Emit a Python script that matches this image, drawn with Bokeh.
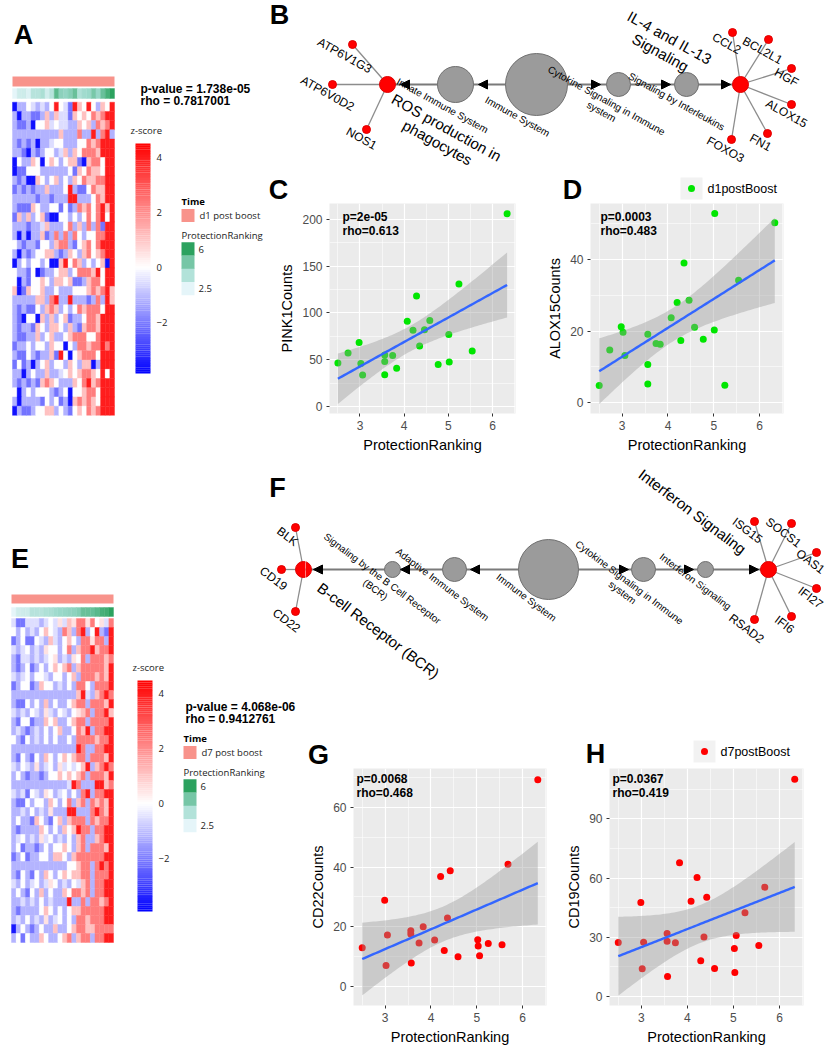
import numpy as np
from bokeh.plotting import figure
from bokeh.models import Range1d, FixedTicker, Arrow, NormalHead, ColumnDataSource
from bokeh.layouts import row, column
from bokeh.embed import file_html
from bokeh.resources import INLINE
from bokeh.core.properties import value
from bokeh.transform import linear_cmap

SANS = "Liberation Sans"
HFONT = "Open Sans"

# ---------------- data: scatter panels ----------------
rank_d1 = [2.5, 2.73, 2.98, 3.02, 3.06, 3.56, 3.56, 3.56, 3.74, 3.83, 4.07, 4.2, 4.28,
           4.35, 4.46, 4.58, 4.77, 5.01, 5.02, 5.24, 5.54, 6.33]
pink1_counts = [46.5, 57.3, 68.5, 46, 33.6, 55, 48, 34, 54.5, 41, 91, 81.5, 118, 64.7,
                82, 92, 45, 77, 47.5, 131, 59.4, 206]
alox15_counts = [4.8, 14.7, 21.2, 19.7, 13.2, 19.1, 10.7, 5.2, 16.5, 16.3, 23.7, 28.0,
                 17.4, 39.0, 28.6, 21.1, 17.7, 20.3, 52.8, 4.9, 34.2, 50.2]
rank_d7 = [2.5, 2.99, 3.02, 3.05, 3.56, 3.56, 3.57, 3.74, 3.83, 4.08, 4.21, 4.29, 4.36,
           4.42, 4.59, 5.02, 5.03, 5.06, 5.25, 5.55, 5.68, 6.33]
cd22_counts = [13, 28.9, 7.0, 17.3, 18.7, 17.6, 7.9, 14.6, 20, 15.6, 36.9, 12.1, 23,
               38.8, 10, 15.7, 13.6, 10.3, 14.4, 14, 41, 69.3]
cd19_counts = [27.4, 47.6, 14.0, 27.5, 31.9, 28.0, 10.1, 27.2, 67.7, 48.3, 60.3, 18.1,
               30.2, 50.3, 14.2, 24.3, 12.2, 30.9, 42.4, 25.8, 55.4, 110]
stat_c = ["p=2e-05", "rho=0.613"]
stat_d = ["p=0.0003", "rho=0.483"]
stat_g = ["p=0.0068", "rho=0.468"]
stat_h = ["p=0.0367", "rho=0.419"]
x_ticks = [3, 4, 5, 6]
c_yticks = [0, 50, 100, 150, 200]
d_yticks = [0, 20, 40]
g_yticks = [0, 20, 40, 60]
h_yticks = [0, 30, 60, 90]

# ---------------- data: heatmaps ----------------
heat_a_stats = ["p-value = 1.738e-05", "rho = 0.7817001"]
heat_e_stats = ["p-value = 4.068e-06", "rho = 0.9412761"]
heat_a_time = "d1 post boost"
heat_e_time = "d7 post boost"
heat_a_col_rank = [2.5, 3.02, 3.06, 2.73, 3.56, 3.56, 3.83, 2.98, 3.56, 5.24, 4.46, 4.35,
                   4.58, 5.02, 3.74, 4.07, 4.2, 4.77, 4.28, 5.01, 5.54, 6.33]
heat_e_col_rank = rank_d7
z_code = {"B": -3.6, "b": -2.1, "l": -1.15, "L": -0.5, "w": 0.0, "P": 0.5,
          "p": 1.1, "r": 2.3, "R": 4.0}
heat_a_codes = [
    "BllwLlLlwRwLbRpwRwlpwR", "lBllbblplpLLbpwpwrprRR", "lbblBwwpLwLLllpwplrprR",
    "llllllllllplllrllRlrRl", "lblblBllLwwlllwwrprRRR", "llbBlblwwlLplpwrrrpRRR",
    "BwllpwBwpwlwppbBprrwRR", "BbbwwwllllllwbpwrppwRR", "lblBBpwlwplwlpwrpprrRR",
    "blblbllplllwRlbbwrppRR", "lllllbllblllRRlllwrpRR", "lbbbpwllwwbwblrprwrRpR",
    "bplplwpbBBwwlwlwrwrRwR", "lllbllLplllwrlplrlrbRR", "lBlBllpblrlrlrwlwwrrRR",
    "wlbllbwwlprrlbwprwrRRR", "lBlblwwpplblpwlprwprRR", "BlwlwwlwBBpRwrplwlwpBR",
    "wllbwBbllwpplwrrrpRwRR", "wBlbwwpwlppwpbblprrwRR", "pBbpwwpllwlllwwwprprRp",
    "lllllpplrRllRlllblrlRp", "lblbbwlprplwlwrprrrwRR", "lbBwwBplplwpbllwrrpRRR",
    "lbllbpwlppwlplbprrpRRR", "lbbllplwpllwprrrwwrRRR", "bllwlwwlpwwBwlrrprrRrR",
    "lbbwlbllpbRwBwprrrwRRR", "bwblBlwplwwlpwlppBlRRR", "llBlwllpllLwpwprrpwRwR",
    "lblblbprpwlllpwrRprRRR", "wBlwlwwwlblwBwwprrwRRR", "lBllllbwlwblBprprpwRRR",
    "BlbblwwpplwlbwpwrprRRR",
]
heat_e_codes = [
    "LbbLLLlLwLPLpPrrPrwPLr", "wlwlLlwpwLlrplrRlwRlbR", "blwbbwLlpLlwpwlrrPrrlR",
    "LlLwlLlPwwlwrlprrRprrR", "lbLLlLlLwPlLlPwrlrrrpr", "lblwblwlwpwprlprrrrrpR",
    "LlLwlwwLlwwlwplrrrprpR", "blwwblpwwlLlwlrrwlrrrR", "llllllllllllllpRLlprRr",
    "lbbwlwlplwllwprrlrrrpR", "LlLlwLlPLlwLlwPprlrrRp", "lbwwbllpwpllwprrlrrrrR",
    "lLlblLlwlwpllwrpRlrrRR", "wlbwlLlwlwllwlrrrrprrR", "llllllllllllllRrllrrRR",
    "lbwlbwlpwlwpwprrlrrrpR", "LlwLlPlLwlPLwLwpRlprRr", "lwlbllblwwpwpwprlrrrpR",
    "llllllllllllLRrlllRRpr", "LlLbwLlPwlLwlwlrRlrrRR", "lbbwlwwlpwlwrlprlrprpR",
    "llLlwlLlPlllRRlllrRrpR", "lwllbpwlbwplprrrlrprrR", "lbllllpwlwlpwpRrrlrrRR",
    "lLwlLlPLwlLlwlprllprRR", "lwbllblwlwwpwlprlrrrpR", "blwbllwwlppwlprrrrrrRR",
    "llllllllllllwwprrlrRrR", "lbwlbwlpwlwpwpprrlrrrR", "LlwlLwlLPwlLlwLprlrrRR",
    "lwlbwlplwllpwrrprlrrRR", "llLlLlwlLlllRllrlrrprR", "lbllllwpwlwlwpprrrrrRR",
    "lLlwlLlPlLwlwlrrprrrRR", "Blwlblwllpllwprrpprrrr", "lwbwllpwllwprlprrlrrRR",
]

# ---------------- data: networks (node, layout x, layout y, radius) ----------------
netB_hub = ["ROS production in phagocytes", "Innate Immune System", "Immune System",
            "Cytokine Signaling in Immune system", "Signaling by Interleukins",
            "IL-4 and IL-13 Signaling"]
netB_hub_x = [387, 455, 536, 618, 686, 740]
netB_hub_r = [8, 18, 31, 12, 12, 8]
netB_hub_red = [True, False, False, False, False, True]
netB_y = 84
netB_genes = ["ATP6V1G3", "ATP6V0D2", "NOS1", "CCL2", "BCL2L1", "HGF", "ALOX15", "FN1", "FOXO3"]
netB_gene_parent = [0, 0, 0, 5, 5, 5, 5, 5, 5]
netB_gene_x = [352, 332, 366, 732, 768, 791, 791, 767, 731]
netB_gene_y = [44, 84, 129, 32, 39, 68, 104, 133, 139]
netB_arrow_tips = [(490, 478), (412, 400), (588, 600), (658, 670), (718, 730)]

netF_hub = ["B-cell Receptor (BCR)", "Signaling by the B Cell Receptor (BCR)",
            "Adaptive Immune System", "Immune System", "Cytokine Signaling in Immune system",
            "Interferon Signaling", "Interferon Signaling"]
netF_hub_x = [303, 392, 454, 548, 643, 705, 768]
netF_hub_r = [8, 8, 12, 30, 12, 8, 8]
netF_hub_red = [True, False, False, False, False, False, True]
netF_y = 569
netF_genes = ["BLK", "CD19", "CD22", "ISG15", "SOCS1", "OAS1", "IFI27", "IFI6", "RSAD2"]
netF_gene_parent = [0, 0, 0, 6, 6, 6, 6, 6, 6]
netF_gene_x = [295, 281, 295, 754, 791, 816, 816, 791, 754]
netF_gene_y = [527, 569, 611, 521, 523, 552, 588, 616, 619]
netF_arrow_tips = [(325, 313), (412, 400), (482, 470), (616, 628), (681, 693), (746, 758)]

# label placements (text, centre x, centre y, font px)
netB_labels = [
    ("Innate Immune System", 442, 105, 10), ("Immune System", 517, 116, 10),
    ("Cytokine Signaling in Immune", 606, 100, 10), ("system", 601, 111, 10),
    ("Signaling by Interleukins", 676, 101, 10),
    ("ROS production in", 446, 127, 15), ("phagocytes", 437, 142, 15),
    ("IL-4 and IL-13", 669, 37, 15), ("Signaling", 660, 52, 15),
    ("ATP6V1G3", 344, 55, 12), ("ATP6V0D2", 327, 93, 12), ("NOS1", 361, 138, 12),
    ("CCL2", 726, 43, 12), ("BCL2L1", 762, 50, 12), ("HGF", 786, 77, 12),
    ("ALOX15", 786, 113, 12), ("FN1", 760, 142, 12), ("FOXO3", 725, 149, 12),
]
netF_labels = [
    ("Signaling by the B Cell Receptor", 382, 578, 10), ("(BCR)", 375, 589, 10),
    ("Adaptive Immune System", 442, 584, 10), ("Immune System", 526, 597, 10),
    ("Cytokine Signaling in Immune", 629, 582, 10), ("system", 622, 592, 10),
    ("Interferon Signaling", 695, 581, 10),
    ("Interferon Signaling", 692, 511, 15), ("B-cell Receptor (BCR)", 378, 630, 15),
    ("BLK", 287, 536, 12), ("CD19", 273, 578, 12), ("CD22", 286, 620, 12),
    ("ISG15", 747, 530, 12), ("SOCS1", 783, 532, 12), ("OAS1", 810, 561, 12),
    ("IFI27", 810, 597, 12), ("IFI6", 784, 624, 12), ("RSAD2", 746, 628, 12),
]

# ---------------- styling helpers ----------------
TIME_COL = "#F8938B"


def hexcol(rgb):
    return "#%02x%02x%02x" % tuple(int(round(v)) for v in rgb)


def z_palette(zmin, zmax, n=256):
    out = []
    for i in range(n):
        z = zmin + (i + 0.5) / n * (zmax - zmin)
        if z < 0:
            t = min(z / zmin, 1.0)
            out.append(hexcol((255 * (1 - t), 255 * (1 - t), 255)))
        else:
            t = min(z / zmax, 1.0)
            out.append(hexcol((255, 255 * (1 - t), 255 * (1 - t))))
    return out


def grad_palette(stops, n=256):
    stops = [tuple(int(s[i:i + 2], 16) for i in (1, 3, 5)) for s in stops]
    out = []
    for i in range(n):
        t = i / (n - 1) * (len(stops) - 1)
        k = min(int(t), len(stops) - 2)
        f = t - k
        a, b = stops[k], stops[k + 1]
        out.append(hexcol([a[j] + (b[j] - a[j]) * f for j in range(3)]))
    return out


PR_PAL = grad_palette(["#e5f5f9", "#99d8c9", "#2ca25f"])


def canvas(x0, x1, y0, y1):
    p = figure(width=x1 - x0, height=y1 - y0, x_range=Range1d(x0, x1),
               y_range=Range1d(-y1, -y0), output_backend="svg", toolbar_location=None,
               min_border=0, title=None, x_axis_location=None, y_axis_location=None)
    p.outline_line_color = None
    p.background_fill_color = "white"
    p.border_fill_color = "white"
    for g in p.grid:
        g.visible = False
    p.tags = [x0, x1]
    return p


def put_text(p, xs, ys, texts, size, angle=0.0, align="left", baseline="middle",
             bold=False, font=SANS, color="black"):
    src = ColumnDataSource(dict(x=list(xs), y=[-v for v in ys], t=list(texts)))
    p.text(x="x", y="y", text="t", source=src, angle=angle, text_align=align,
           text_baseline=baseline, text_font=value(font), text_font_size=f"{size}px",
           text_font_style="bold" if bold else "normal", text_color=color)


def letter(p, ch, x, y):
    put_text(p, [x], [y], [ch], 27, align="center", bold=True)


def heat_panel(p, codes, col_rank, x0, x1, yt, yp, yb, rh, cb, legend, time_lbl):
    zmin, zmax = cb["zmin"], cb["zmax"]
    pal = z_palette(zmin, zmax)
    ncol = len(codes[0])
    cw = (x1 - x0) / ncol
    xs, ys, zs = [], [], []
    for r, line in enumerate(codes):
        for c, ch in enumerate(line):
            xs.append(x0 + (c + 0.5) * cw)
            ys.append(-(yb + (r + 0.5) * rh))
            zs.append(z_code[ch])
    cm = linear_cmap("z", pal, zmin, zmax)
    p.rect("x", "y", width=cw, height=rh, source=ColumnDataSource(dict(x=xs, y=ys, z=zs)),
           fill_color=cm, line_color=cm, line_width=0.4)
    p.rect(x=(x0 + x1) / 2, y=-(yt[0] + yt[1]) / 2, width=x1 - x0, height=yt[1] - yt[0],
           fill_color=TIME_COL, line_color=None)
    prm = linear_cmap("v", PR_PAL, 2.5, 6.0)
    p.rect("x", "y", width=cw, height=yp[1] - yp[0],
           source=ColumnDataSource(dict(x=[x0 + (c + 0.5) * cw for c in range(ncol)],
                                        y=[-(yp[0] + yp[1]) / 2] * ncol, v=col_rank)),
           fill_color=prm, line_color=prm, line_width=0.4)
    n = 120
    cy0, cy1 = cb["y0"], cb["y1"]
    sh = (cy1 - cy0) / n
    zz = [zmin + (i + 0.5) / n * (zmax - zmin) for i in range(n)]
    yy = [-(cy1 - (i + 0.5) * sh) for i in range(n)]
    p.rect(x=(cb["x0"] + cb["x1"]) / 2, y="y", width=cb["x1"] - cb["x0"], height=sh * 1.05,
           source=ColumnDataSource(dict(y=yy, z=zz)), fill_color=cm, line_color=None)
    ticks = [4, 2, 0, -2]
    put_text(p, [cb["x1"] + 6] * 4,
             [cy1 - (t - zmin) / (zmax - zmin) * (cy1 - cy0) for t in ticks],
             ["4", "2", "0", "\u22122"], 9.5, font=HFONT, color="#222222")
    put_text(p, [cb["x0"] - 5], [cy0 - 13], ["z-score"], 9.5, font=HFONT, color="#222222")
    lx, ly = legend
    put_text(p, [lx], [ly], ["Time"], 9.5, bold=True, font=HFONT)
    p.rect(x=lx + 6.5, y=-(ly + 14), width=13, height=13, fill_color=TIME_COL, line_color=None)
    put_text(p, [lx + 18], [ly + 14], [time_lbl], 9.5, font=HFONT, color="#222222")
    put_text(p, [lx], [ly + 34], ["ProtectionRanking"], 9.5, font=HFONT, color="#222222")
    sw = [6.0, 4.83, 3.67, 2.5]
    p.rect(x=[lx + 6.5] * 4, y=[-(ly + 47.5 + 13.2 * i) for i in range(4)], width=13,
           height=13.4, fill_color=[PR_PAL[int((v - 2.5) / 3.5 * 255)] for v in sw],
           line_color=None)
    put_text(p, [lx + 17, lx + 17], [ly + 48, ly + 87], ["6", "2.5"], 9.5, font=HFONT,
             color="#222222")


def stats_text(p, sx, sy, lines):
    put_text(p, [sx, sx], [sy, sy + 12.5], lines, 12, bold=True)


def network(p, hub, hub_x, hub_r, hub_red, y0, genes, parent, gx, gy, tips, labels, ang):
    xa0, xa1 = p.tags
    xs = [[hub_x[i], hub_x[i + 1]] for i in range(len(hub_x) - 1)]
    ys = [[-y0, -y0]] * len(xs)
    p.multi_line(xs, ys, line_color="#7a7a7a", line_width=2)
    xs2 = [[hub_x[parent[k]], gx[k]] for k in range(len(genes))]
    ys2 = [[-y0, -gy[k]] for k in range(len(genes))]
    p.multi_line(xs2, ys2, line_color="#8c8c8c", line_width=1.3)
    for red in (False, True):
        idx = [i for i in range(len(hub)) if hub_red[i] == red]
        p.circle(x=[hub_x[i] for i in idx], y=[-y0] * len(idx),
                 radius=[hub_r[i] for i in idx],
                 fill_color="#ff0000" if red else "#9b9b9b",
                 line_color="#e00000" if red else "#707070", line_width=1)
    p.circle(x=gx, y=[-v for v in gy], radius=4, fill_color="#ff0000", line_color="#e00000")
    for (xa, xb) in tips:
        if xa0 <= xb < xa1:
            p.add_layout(Arrow(end=NormalHead(size=9, fill_color="black", line_color="black"),
                               x_start=xa, y_start=-y0, x_end=xb, y_end=-y0, line_alpha=0))
    for (t, cx, cy, s) in labels:
        if xa0 <= cx < xa1:
            put_text(p, [cx], [cy], [t], s, angle=ang, align="center", baseline="middle")


def scatter_panel(xs, ys, color, ylab, yr, yticks, w, h, bl, br, bb, stats, sdx, sdy):
    xr = (2.31, 6.52)
    p = figure(width=w, height=h, x_range=Range1d(*xr), y_range=Range1d(*yr),
               output_backend="svg", toolbar_location=None, title=None,
               min_border_left=bl, min_border_right=br, min_border_top=0, min_border_bottom=bb)
    p.background_fill_color = "#EBEBEB"
    p.border_fill_color = "white"
    p.outline_line_color = None
    p.xaxis.ticker = FixedTicker(ticks=x_ticks, minor_ticks=[2.5, 3.5, 4.5, 5.5, 6.5])
    st = yticks[1] - yticks[0]
    p.yaxis.ticker = FixedTicker(ticks=yticks,
                                 minor_ticks=[t - st / 2 for t in yticks] + [yticks[-1] + st / 2])
    p.grid.grid_line_color = "white"
    p.grid.grid_line_width = 1.2
    p.grid.minor_grid_line_color = "white"
    p.grid.minor_grid_line_width = 0.55
    p.axis.axis_line_color = None
    p.axis.major_tick_line_color = "#333333"
    p.axis.major_tick_in = 0
    p.axis.major_tick_out = 3
    p.axis.minor_tick_line_color = None
    p.axis.major_label_text_font = SANS
    p.axis.major_label_text_font_size = "12px"
    p.axis.major_label_text_color = "#4D4D4D"
    p.axis.major_label_standoff = 3
    p.axis.axis_label_text_font = SANS
    p.axis.axis_label_text_font_size = "14.5px"
    p.axis.axis_label_text_font_style = "normal"
    p.axis.axis_label_text_color = "black"
    p.axis.axis_label_standoff = 4
    p.xaxis.axis_label = "ProtectionRanking"
    p.yaxis.axis_label = ylab
    x = np.array(xs, float)
    y = np.array(ys, float)
    n = len(x)
    b1, b0 = np.polyfit(x, y, 1)
    xg = np.linspace(x.min(), x.max(), 80)
    yh = b0 + b1 * xg
    s = np.sqrt(((y - (b0 + b1 * x)) ** 2).sum() / (n - 2))
    se = s * np.sqrt(1 / n + (xg - x.mean()) ** 2 / ((x - x.mean()) ** 2).sum())
    tq = 2.086
    p.scatter(xs, ys, size=7, fill_color=color, line_color=None)
    p.varea(x=xg, y1=yh - tq * se, y2=yh + tq * se, fill_color="#999999", fill_alpha=0.4)
    p.line(xg, yh, line_color="#3366FF", line_width=2.4)
    fw = w - bl - br
    fh = h - bb
    sxd = xr[0] + sdx / fw * (xr[1] - xr[0])
    p.text(x=[sxd, sxd],
           y=[yr[1] - sdy / fh * (yr[1] - yr[0]), yr[1] - (sdy + 14) / fh * (yr[1] - yr[0])],
           text=stats, text_font=value(SANS), text_font_size="12px", text_font_style="bold",
           text_baseline="middle", text_align="left", text_color="black")
    return p


def legend_key(p, x0, y0, color, label):
    p.rect(x=x0 + 11, y=-(y0 + 11), width=22, height=22, fill_color="#F2F2F2", line_color=None)
    p.scatter(x=[x0 + 11], y=[-(y0 + 11)], size=7, fill_color=color, line_color=None)
    put_text(p, [x0 + 27], [y0 + 11], [label], 12.5)


# ---------------- panels ----------------
GREEN = "#00E600"
RED = "#FF0000"

pA = canvas(0, 268, 0, 455)
letter(pA, "A", 23, 34)
heat_panel(pA, heat_a_codes, heat_a_col_rank, 12, 114, (76, 86), (88, 98), 101.7, 9.21,
           dict(zmin=-3.85, zmax=4.5, x0=135, x1=150, y0=143, y1=373), (181, 201),
           heat_a_time)
stats_text(pA, 140, 88, heat_a_stats)

pB = canvas(268, 829, 0, 203)
letter(pB, "B", 279, 14)
network(pB, netB_hub, netB_hub_x, netB_hub_r, netB_hub_red, netB_y, netB_genes,
        netB_gene_parent, netB_gene_x, netB_gene_y, netB_arrow_tips, netB_labels,
        np.deg2rad(-29))
letter(pB, "C", 278, 189)
letter(pB, "D", 572, 189)
legend_key(pB, 680, 177, GREEN, "d1postBoost")

pC = scatter_panel(rank_d1, pink1_counts, GREEN, "PINK1Counts", (-7.5, 217), c_yticks,
                   272, 252, 61, 25, 38, stat_c, 13, 14)
pD = scatter_panel(rank_d1, alox15_counts, GREEN, "ALOX15Counts", (-3.0, 55.6), d_yticks,
                   289, 252, 50, 46, 38, stat_d, 10, 14)

pE = canvas(0, 305, 455, 1050)
letter(pE, "E", 19.5, 558)
heat_panel(pE, heat_e_codes, heat_e_col_rank, 11, 113, (594, 603), (607, 616), 618, 9.0,
           dict(zmin=-3.93, zmax=4.47, x0=137, x1=152, y0=680, y1=911), (183, 738),
           heat_e_time)
stats_text(pE, 185, 706, heat_e_stats)

pF = canvas(305, 829, 455, 768)
for pn in (pE, pF):
    network(pn, netF_hub, netF_hub_x, netF_hub_r, netF_hub_red, netF_y, netF_genes,
            netF_gene_parent, netF_gene_x, netF_gene_y, netF_arrow_tips, netF_labels,
            np.deg2rad(-37))
letter(pE, "F", 277, 487)
letter(pF, "G", 318, 754)
letter(pF, "H", 595, 753)
legend_key(pF, 693, 740, RED, "d7postBoost")

pG = scatter_panel(rank_d7, cd22_counts, RED, "CD22Counts", (-6.37, 73.07), g_yticks,
                   257, 282, 48, 16, 45, stat_g, 3, 10)
pH = scatter_panel(rank_d7, cd19_counts, RED, "CD19Counts", (-4.56, 115.5), h_yticks,
                   267, 282, 47, 26, 45, stat_h, 3, 10)

layout = column(
    row(pA, column(pB, row(pC, pD, spacing=0), spacing=0), spacing=0),
    row(pE, column(pF, row(pG, pH, spacing=0), spacing=0), spacing=0),
    spacing=0,
)

open("out.html", "w").write(file_html(layout, INLINE))
